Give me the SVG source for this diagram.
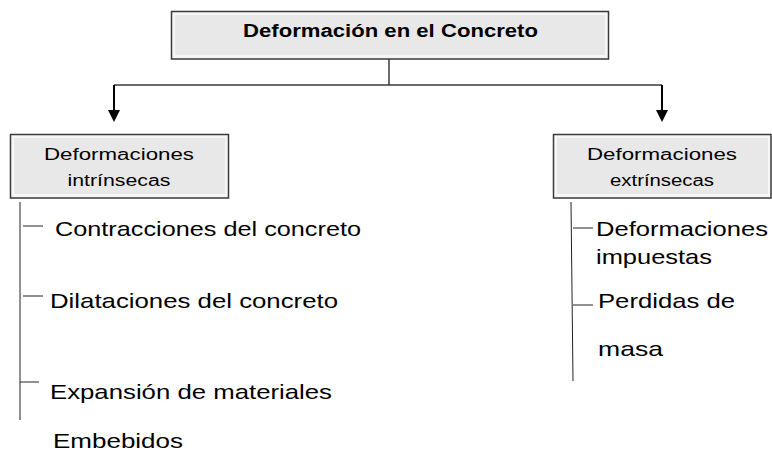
<svg xmlns="http://www.w3.org/2000/svg" width="772" height="455" viewBox="0 0 772 455">
<defs>
<style>
.box{fill:#f6f6f6;stroke:#3a3a3a;stroke-width:1.5}
.inner{fill:#e8e8e8;stroke:none}
.t{font-family:"Liberation Sans",Arial,sans-serif;fill:#000}
.bt{font-size:16px;text-anchor:middle}
.lt{font-size:21px}
.ln{stroke:#3a3a3a;stroke-width:1.5;fill:none}
.ar{stroke:#000;stroke-width:2;fill:none}
.tk{stroke:#222;stroke-width:1;fill:none}
</style>
</defs>
<rect width="772" height="455" fill="#fff"/>
<g id="connectors">
<path class="ln" d="M389,59 V85"/>
<path class="ln" d="M114,85 H662"/>
<path class="ar" d="M114,85 V110"/>
<path class="ar" d="M662,85 V110"/>
<path d="M108,110 L120,110 L114,122 Z" fill="#000"/>
<path d="M656,110 L668,110 L662,122 Z" fill="#000"/>
<path class="tk" d="M20,202 V420"/>
<path class="tk" d="M23,226 H43"/>
<path class="tk" d="M23,296 H43"/>
<path class="tk" d="M20,382 H39"/>
<path class="tk" d="M571,202 L573,381"/>
<path class="tk" d="M573,228 H593"/>
<path class="tk" d="M573,305 H593"/>
</g>
<g id="root">
<rect class="box" x="171.5" y="11.5" width="437" height="47.5"/>
<rect class="inner" x="175" y="15" width="430" height="40"/>
<text class="t" x="390.5" y="37" font-size="18" font-weight="bold" text-anchor="middle" textLength="295" lengthAdjust="spacingAndGlyphs">Deformación en el Concreto</text>
</g>
<g id="intrinsecas">
<rect class="box" x="10.5" y="134.5" width="218" height="63.5"/>
<rect class="inner" x="14" y="138" width="211" height="56"/>
<text class="t bt" x="119" y="160" textLength="150" lengthAdjust="spacingAndGlyphs">Deformaciones</text>
<text class="t bt" x="119" y="186" textLength="103" lengthAdjust="spacingAndGlyphs">intrínsecas</text>
</g>
<g id="extrinsecas">
<rect class="box" x="553.5" y="134.5" width="217.5" height="63.5"/>
<rect class="inner" x="557" y="138" width="211" height="56"/>
<text class="t bt" x="662" y="160" textLength="150" lengthAdjust="spacingAndGlyphs">Deformaciones</text>
<text class="t bt" x="662" y="186" textLength="104" lengthAdjust="spacingAndGlyphs">extrínsecas</text>
</g>
<g id="items-left">
<text class="t lt" x="55" y="236" textLength="306" lengthAdjust="spacingAndGlyphs">Contracciones del concreto</text>
<text class="t lt" x="50" y="308" textLength="288" lengthAdjust="spacingAndGlyphs">Dilataciones del concreto</text>
<text class="t lt" x="50" y="399" textLength="282" lengthAdjust="spacingAndGlyphs">Expansión de materiales</text>
<text class="t lt" x="53" y="448" textLength="130" lengthAdjust="spacingAndGlyphs">Embebidos</text>
</g>
<g id="items-right">
<text class="t lt" x="596" y="236" textLength="172" lengthAdjust="spacingAndGlyphs">Deformaciones</text>
<text class="t lt" x="596" y="264" textLength="116" lengthAdjust="spacingAndGlyphs">impuestas</text>
<text class="t lt" x="598" y="308" textLength="137" lengthAdjust="spacingAndGlyphs">Perdidas de</text>
<text class="t lt" x="598" y="356" textLength="65" lengthAdjust="spacingAndGlyphs">masa</text>
</g>
</svg>
